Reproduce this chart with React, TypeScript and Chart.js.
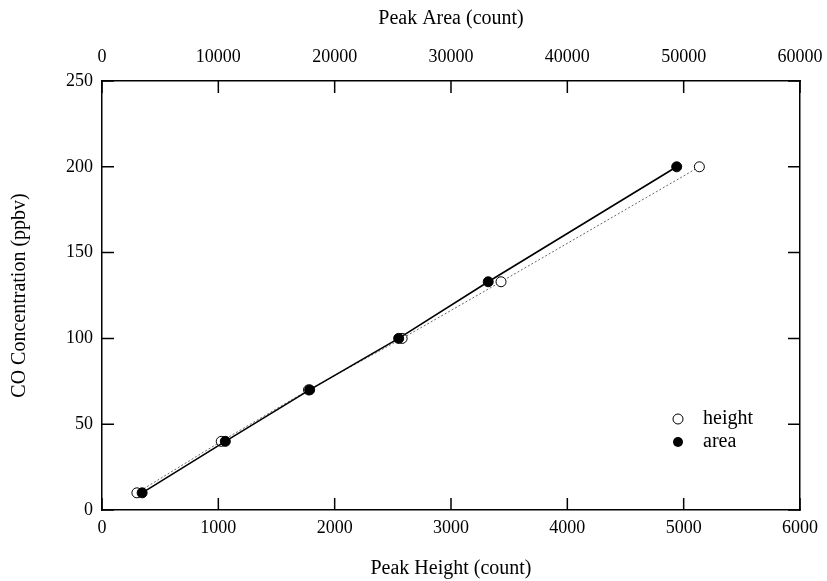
import React, { useEffect, useRef } from "react";
import { Chart, registerables } from "chart.js";

Chart.register(...registerables);

// Data
const concentrations = [10, 40, 70, 100, 133, 200]; // CO Concentration (ppbv)
const heightCounts = [300, 1025, 1775, 2580, 3430, 5135]; // Peak Height (count), bottom axis
const areaCounts = [3450, 10600, 17850, 25500, 33200, 49400]; // Peak Area (count), top axis

const heightTicks = [0, 1000, 2000, 3000, 4000, 5000, 6000];
const areaTicks = [0, 10000, 20000, 30000, 40000, 50000, 60000];
const concTicks = [0, 50, 100, 150, 200, 250];

const legendLabels = ["height", "area"];

const FONT = "'Liberation Serif', 'Times New Roman', Times, serif";

const inwardTicks = {
  id: "inwardTicks",
  afterDraw(chart: any) {
    const { ctx, chartArea } = chart;
    const len = 12;
    ctx.save();
    ctx.strokeStyle = "#000";
    ctx.lineWidth = 1.5;
    const s = chart.scales;
    ctx.beginPath();
    heightTicks.forEach((v) => {
      const px = s.x.getPixelForValue(v);
      ctx.moveTo(px, chartArea.bottom);
      ctx.lineTo(px, chartArea.bottom - len);
    });
    areaTicks.forEach((v) => {
      const px = s.x2.getPixelForValue(v);
      ctx.moveTo(px, chartArea.top);
      ctx.lineTo(px, chartArea.top + len);
    });
    concTicks.forEach((v) => {
      const py = s.y.getPixelForValue(v);
      ctx.moveTo(chartArea.left, py);
      ctx.lineTo(chartArea.left + len, py);
      const py2 = s.y2.getPixelForValue(v);
      ctx.moveTo(chartArea.right, py2);
      ctx.lineTo(chartArea.right - len, py2);
    });
    ctx.stroke();

    // Legend inside plot, lower right
    const cx = chartArea.right - 122;
    const ys = [chartArea.bottom - 91, chartArea.bottom - 68];
    ctx.font = `20px ${FONT}`;
    ctx.textBaseline = "middle";
    ctx.textAlign = "left";
    ctx.fillStyle = "#000";
    legendLabels.forEach((lab, i) => {
      ctx.beginPath();
      ctx.arc(cx, ys[i], 5, 0, Math.PI * 2);
      ctx.lineWidth = 1;
      if (i === 0) {
        ctx.fillStyle = "#fff";
        ctx.fill();
        ctx.strokeStyle = "#000";
        ctx.stroke();
      } else {
        ctx.fillStyle = "#000";
        ctx.fill();
      }
      ctx.fillStyle = "#000";
      ctx.fillText(lab, cx + 25, ys[i]);
    });
    ctx.restore();
  },
};

function fixBox(prop: "width" | "height", val: number) {
  return (scale: any) => {
    scale[prop] = val;
    scale.paddingLeft = 0;
    scale.paddingRight = 0;
    scale.paddingTop = 0;
    scale.paddingBottom = 0;
  };
}

const plain = (v: any) => String(v);

export default function App() {
  const ref = useRef<HTMLCanvasElement>(null);

  useEffect(() => {
    document.body.style.margin = "0";
    const canvas = ref.current!;
    const axisCommon = {
      grid: { display: true, drawOnChartArea: false, drawTicks: false },
      border: { display: true, color: "#000", width: 1.5 },
    };
    const tickFont = { family: FONT, size: 18 };
    const titleFont = { family: FONT, size: 20 };
    const chart = new Chart(canvas, {
      type: "scatter",
      data: {
        datasets: [
          {
            label: "height",
            order: 2,
            data: heightCounts.map((x, i) => ({ x, y: concentrations[i] })),
            xAxisID: "x",
            yAxisID: "y",
            showLine: true,
            borderColor: "#666",
            borderWidth: 1,
            borderDash: [2, 2],
            pointRadius: 5,
            pointBackgroundColor: "#fff",
            pointBorderColor: "#000",
            pointBorderWidth: 1,
          },
          {
            label: "area",
            order: 1,
            data: areaCounts.map((x, i) => ({ x, y: concentrations[i] })),
            xAxisID: "x2",
            yAxisID: "y",
            showLine: true,
            borderColor: "#000",
            borderWidth: 1.6,
            pointRadius: 5,
            pointBackgroundColor: "#000",
            pointBorderColor: "#000",
            pointBorderWidth: 1,
          },
        ],
      },
      options: {
        animation: false,
        responsive: false,
        events: [],
        layout: { padding: 0 },
        plugins: { legend: { display: false }, tooltip: { enabled: false } },
        scales: {
          x: {
            type: "linear",
            position: "bottom",
            min: 0,
            max: 6000,
            afterBuildTicks: (s: any) => {
              s.ticks = heightTicks.map((v) => ({ value: v }));
            },
            ticks: { color: "#000", font: tickFont, padding: 7, maxRotation: 0, callback: plain },
            title: {
              display: true,
              text: "Peak Height (count)",
              color: "#000",
              font: titleFont,
              padding: { top: 0, bottom: 0 },
            },
            afterFit: fixBox("height", 71),
            ...axisCommon,
          },
          x2: {
            type: "linear",
            position: "top",
            min: 0,
            max: 60000,
            afterBuildTicks: (s: any) => {
              s.ticks = areaTicks.map((v) => ({ value: v }));
            },
            ticks: { color: "#000", font: tickFont, padding: 13, maxRotation: 0, callback: plain },
            title: {
              display: true,
              text: "Peak Area (count)",
              color: "#000",
              font: titleFont,
              padding: { top: 7, bottom: 0 },
            },
            afterFit: fixBox("height", 81),
            ...axisCommon,
          },
          y: {
            type: "linear",
            position: "left",
            min: 0,
            max: 250,
            afterBuildTicks: (s: any) => {
              s.ticks = concTicks.map((v) => ({ value: v }));
            },
            ticks: { color: "#000", font: tickFont, padding: 9, callback: plain },
            title: {
              display: true,
              text: "CO Concentration (ppbv)",
              color: "#000",
              font: titleFont,
              padding: { top: 8, bottom: 0 },
            },
            afterFit: fixBox("width", 102),
            ...axisCommon,
          },
          y2: {
            type: "linear",
            position: "right",
            min: 0,
            max: 250,
            afterBuildTicks: (s: any) => {
              s.ticks = concTicks.map((v) => ({ value: v }));
            },
            ticks: { display: false },
            afterFit: fixBox("width", 27),
            ...axisCommon,
          },
        },
      },
      plugins: [inwardTicks],
    } as any);
    return () => chart.destroy();
  }, []);

  return (
    <div style={{ width: 827, height: 581, background: "#fff" }}>
      <canvas ref={ref} width={827} height={581} style={{ display: "block" }} />
    </div>
  );
}
